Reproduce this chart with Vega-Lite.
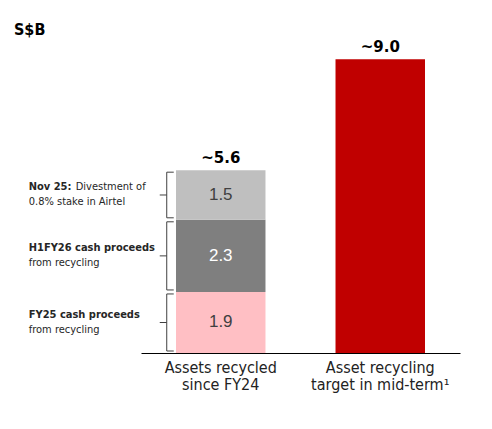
{
  "$schema": "https://vega.github.io/schema/vega-lite/v6.json",
  "width": 319,
  "height": 333,
  "autosize": {"type": "none"},
  "padding": {"left": 141, "top": 20, "right": 32, "bottom": 76},
  "title": {"text": "S$B", "anchor": "start", "frame": "group", "dx": -127, "dy": 22, "fontSize": 16, "font": "DejaVu Sans Condensed", "fontWeight": "bold", "color": "#000000"},
  "config": {"view": {"stroke": null}},
  "datasets": {
    "bars": [
      {"cat": "Assets recycled|since FY24", "seg": "FY25", "start": 0, "end": 1.87, "mid": 0.935, "label": "1.9", "head": "FY25 cash proceeds", "rest": "", "tail": "from recycling"},
      {"cat": "Assets recycled|since FY24", "seg": "H1FY26", "start": 1.87, "end": 4.08, "mid": 2.975, "label": "2.3", "head": "H1FY26 cash proceeds", "rest": "", "tail": "from recycling"},
      {"cat": "Assets recycled|since FY24", "seg": "Nov25", "start": 4.08, "end": 5.6, "mid": 4.84, "label": "1.5", "head": "Nov 25:", "rest": "Divestment of", "tail": "0.8% stake in Airtel"},
      {"cat": "Asset recycling|target in mid-term¹", "seg": "Target", "start": 0, "end": 9.0}
    ],
    "totals": [
      {"cat": "Assets recycled|since FY24", "total": 5.6, "label": "~5.6"},
      {"cat": "Asset recycling|target in mid-term¹", "total": 9.0, "label": "~9.0"}
    ]
  },
  "encoding": {
    "x": {
      "field": "cat",
      "type": "nominal",
      "sort": ["Assets recycled|since FY24", "Asset recycling|target in mid-term¹"],
      "scale": {"paddingInner": 0.439, "paddingOuter": 0.2194},
      "axis": {
        "title": null,
        "labelAngle": 0,
        "ticks": false,
        "domainColor": "#000000",
        "domainWidth": 1,
        "labelFont": "DejaVu Sans Condensed",
        "labelFontSize": 16,
        "labelColor": "#222222",
        "labelPadding": 6,
        "labelLineHeight": 17.5,
        "labelBaseline": "top",
        "labelExpr": "split(datum.label, '|')"
      }
    }
  },
  "layer": [
    {
      "data": {"name": "bars"},
      "mark": {"type": "bar"},
      "encoding": {
        "y": {"field": "start", "type": "quantitative", "scale": {"domain": [0, 10.2], "nice": false, "zero": true}, "axis": null},
        "y2": {"field": "end"},
        "color": {"field": "seg", "type": "nominal", "legend": null,
          "scale": {"domain": ["FY25", "H1FY26", "Nov25", "Target"], "range": ["#FFBFC4", "#7F7F7F", "#BFBFBF", "#C00000"]}}
      }
    },
    {
      "data": {"name": "bars"},
      "transform": [{"filter": "isValid(datum.head)"}],
      "mark": {"type": "text", "font": "Liberation Sans", "fontSize": 17, "baseline": "middle", "align": "center"},
      "encoding": {
        "y": {"field": "mid", "type": "quantitative"},
        "text": {"field": "label"},
        "color": {"condition": {"test": "datum.seg == 'H1FY26'", "value": "#FFFFFF"}, "value": "#404040"}
      }
    },
    {
      "data": {"name": "totals"},
      "mark": {"type": "text", "font": "DejaVu Sans", "fontSize": 15, "fontWeight": "bold", "baseline": "bottom", "dy": -4, "color": "#000000"},
      "encoding": {
        "y": {"field": "total", "type": "quantitative"},
        "text": {"field": "label"}
      }
    },
    {
      "data": {"name": "bars"},
      "transform": [{"filter": "isValid(datum.head)"}],
      "mark": {"type": "text", "font": "DejaVu Sans Condensed", "fontSize": 11, "fontWeight": "bold", "align": "left", "baseline": "middle", "dx": -192, "dy": -7.5, "color": "#262626"},
      "encoding": {
        "y": {"field": "mid", "type": "quantitative"},
        "text": {"field": "head"}
      }
    },
    {
      "data": {"name": "bars"},
      "transform": [{"filter": "isValid(datum.rest) && datum.rest != ''"}],
      "mark": {"type": "text", "font": "DejaVu Sans Condensed", "fontSize": 11, "align": "left", "baseline": "middle", "dx": -145, "dy": -7.5, "color": "#262626"},
      "encoding": {
        "y": {"field": "mid", "type": "quantitative"},
        "text": {"field": "rest"}
      }
    },
    {
      "data": {"name": "bars"},
      "transform": [{"filter": "isValid(datum.head)"}],
      "mark": {"type": "text", "font": "DejaVu Sans Condensed", "fontSize": 11, "align": "left", "baseline": "middle", "dx": -192, "dy": 7.5, "color": "#262626"},
      "encoding": {
        "y": {"field": "mid", "type": "quantitative"},
        "text": {"field": "tail"}
      }
    },
    {
      "data": {"name": "bars"},
      "transform": [{"filter": "isValid(datum.head)"}],
      "mark": {"type": "rule", "xOffset": -54, "yOffset": -2, "y2Offset": 2, "color": "#404040", "strokeWidth": 1},
      "encoding": {
        "y": {"field": "start", "type": "quantitative"},
        "y2": {"field": "end"}
      }
    },
    {
      "data": {"name": "bars"},
      "transform": [{"filter": "isValid(datum.head)"}],
      "mark": {"type": "tick", "xOffset": -50.5, "yOffset": 2, "size": 7, "thickness": 1, "color": "#404040", "opacity": 1},
      "encoding": {
        "y": {"field": "end", "type": "quantitative"}
      }
    },
    {
      "data": {"name": "bars"},
      "transform": [{"filter": "isValid(datum.head)"}],
      "mark": {"type": "tick", "xOffset": -50.5, "yOffset": -2, "size": 7, "thickness": 1, "color": "#404040", "opacity": 1},
      "encoding": {
        "y": {"field": "start", "type": "quantitative"}
      }
    },
    {
      "data": {"name": "bars"},
      "transform": [{"filter": "isValid(datum.head)"}],
      "mark": {"type": "tick", "xOffset": -57.5, "size": 7, "thickness": 1, "color": "#404040", "opacity": 1},
      "encoding": {
        "y": {"field": "mid", "type": "quantitative"}
      }
    }
  ]
}
